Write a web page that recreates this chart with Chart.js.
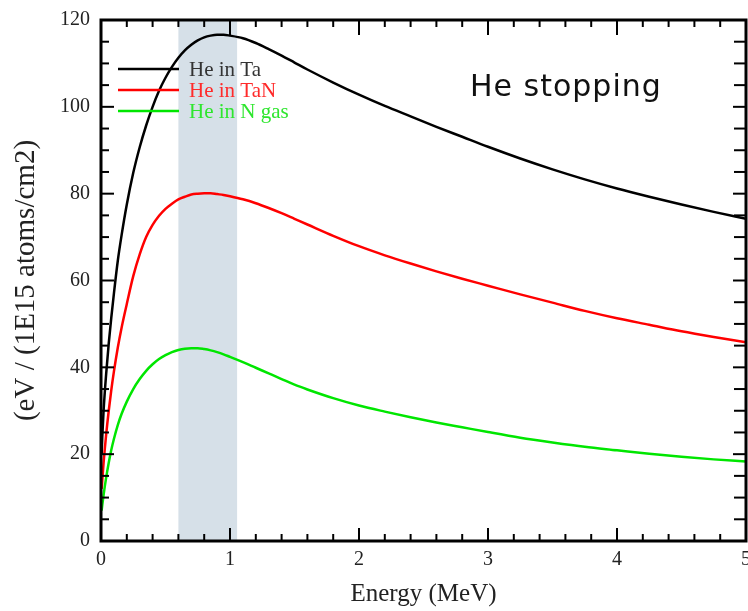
<!DOCTYPE html>
<html>
<head>
<meta charset="utf-8">
<title>He stopping</title>
<script src="https://cdn.jsdelivr.net/npm/chart.js@4.4.1/dist/chart.umd.min.js"></script>
<style>
  body { margin: 0; background: #fff; }
  canvas { display: block; }
</style>
</head>
<body>
<canvas id="grafico" width="748" height="611"></canvas>
<script>
// energy grid (MeV) and stopping values, eV / (1E15 atoms/cm2)
const energy = [0.005, 0.01, 0.02, 0.04, 0.06, 0.08, 0.1, 0.13, 0.16, 0.2,
    0.25, 0.3, 0.35, 0.4, 0.45, 0.5, 0.55, 0.6, 0.65, 0.7, 0.75, 0.8, 0.85, 0.9, 0.95, 1.0,
    1.1, 1.2, 1.3, 1.4, 1.5, 1.6, 1.8, 2.0, 2.2, 2.4, 2.6, 2.8, 3.0,
    3.25, 3.5, 3.75, 4.0, 4.25, 4.5, 4.75, 5.0];

const heInTa = [20, 24, 30, 38.5, 45.5, 51.5, 57, 64.5, 70.5, 77.5,
    84.8, 90.7, 95.7, 100.0, 103.7, 106.7, 109.2, 111.3, 113.0, 114.3, 115.3, 116.0, 116.4, 116.6, 116.6, 116.4,
    115.8, 114.7, 113.3, 111.8, 110.2, 108.6, 105.6, 102.8, 100.2, 97.8, 95.4, 93.1, 90.8,
    88.1, 85.6, 83.3, 81.2, 79.3, 77.5, 75.8, 74.2];

const heInTaN = [12, 14, 18, 24.5, 30, 34.8, 39, 44.5, 49.2, 54.6,
    61.0, 66.0, 70.0, 72.8, 74.9, 76.5, 77.7, 78.7, 79.3, 79.8, 80.0, 80.1, 80.1, 79.9, 79.7, 79.4,
    78.7, 77.8, 76.7, 75.5, 74.2, 72.9, 70.3, 67.9, 65.8, 63.9, 62.1, 60.4, 58.8,
    56.8, 54.9, 53.0, 51.3, 49.8, 48.3, 47.0, 45.8];

const heInNgas = [7.0, 8.3, 10.6, 14.6, 18.0, 21.0, 23.5, 26.7, 29.3, 32.1,
    35.0, 37.3, 39.2, 40.7, 41.9, 42.8, 43.5, 44.0, 44.3, 44.4, 44.4, 44.2, 43.9, 43.5, 43.0, 42.4,
    41.2, 39.9, 38.6, 37.3, 36.0, 34.9, 32.9, 31.2, 29.8, 28.5, 27.3, 26.2, 25.1,
    23.8, 22.7, 21.7, 20.9, 20.1, 19.4, 18.8, 18.3];

const seriesNames = ["He in Ta", "He in TaN", "He in N gas"];
const lineColors = ["#000000", "#ff0000", "#00e600"];
const textColors = ["#333333", "#ff2a2a", "#2ee62e"];

// shaded energy window (MeV)
const shadeRange = [0.6, 1.055];

const xTicks = { min: 0, max: 5, step: 1, minor: 0.2 };
const yTicks = { min: 0, max: 120, step: 20, minor: 5 };

const serif = "'Liberation Serif', 'Times New Roman', serif";

const toPoints = (values) => values.map((v, i) => ({ x: energy[i], y: v }));

// light band behind the curves
const shadePlugin = {
    id: "shade",
    beforeDatasetsDraw(chart) {
        const { ctx, chartArea, scales } = chart;
        const x0 = scales.x.getPixelForValue(shadeRange[0]);
        const x1 = scales.x.getPixelForValue(shadeRange[1]);
        ctx.save();
        ctx.fillStyle = "#d6e0e8";
        ctx.fillRect(x0, chartArea.top, x1 - x0, chartArea.bottom - chartArea.top);
        ctx.restore();
    }
};

function drawTicks(ctx, scale, range, along, edge, dir, minorLen, majorLen) {
    const n = Math.round((range.max - range.min) / range.minor);
    const every = Math.round(range.step / range.minor);
    for (let i = 0; i <= n; i++) {
        const v = range.min + i * range.minor;
        const p = scale.getPixelForValue(v);
        const len = i % every === 0 ? majorLen : minorLen;
        ctx.beginPath();
        if (along === "x") {
            ctx.moveTo(p, edge);
            ctx.lineTo(p, edge + dir * len);
        } else {
            ctx.moveTo(edge, p);
            ctx.lineTo(edge + dir * len, p);
        }
        ctx.stroke();
    }
}

// frame, inward ticks, legend and the caption
const framePlugin = {
    id: "frame",
    afterDraw(chart) {
        const { ctx, chartArea, scales } = chart;
        const { left, right, top, bottom } = chartArea;
        ctx.save();
        ctx.strokeStyle = "#000";
        ctx.lineWidth = 2;
        drawTicks(ctx, scales.x, xTicks, "x", bottom, -1, 7, 13);
        drawTicks(ctx, scales.x, xTicks, "x", top, 1, 7, 15);
        drawTicks(ctx, scales.y, yTicks, "y", left, 1, 8, 13);
        drawTicks(ctx, scales.y, yTicks, "y", right, -1, 12, 13);
        ctx.lineWidth = 3;
        ctx.strokeRect(left, top, right - left, bottom - top);

        // legend
        ctx.font = "21px " + serif;
        ctx.textBaseline = "middle";
        ctx.textAlign = "left";
        chart.data.datasets.forEach((ds, i) => {
            const y = 69 + i * 21;
            ctx.strokeStyle = ds.borderColor;
            ctx.lineWidth = 2.5;
            ctx.beginPath();
            ctx.moveTo(118, y);
            ctx.lineTo(179, y);
            ctx.stroke();
            ctx.fillStyle = textColors[i];
            ctx.fillText(ds.label, 189, y + 1);
        });

        ctx.fillStyle = "#111";
        ctx.font = "30px 'DejaVu Sans', sans-serif";
        ctx.letterSpacing = "1px";
        ctx.textBaseline = "alphabetic";
        ctx.fillText("He stopping", 470, 96);
        ctx.restore();
    }
};

const config = {
    type: "line",
    data: {
        datasets: [heInTa, heInTaN, heInNgas].map((values, i) => ({
            label: seriesNames[i],
            data: toPoints(values),
            borderColor: lineColors[i],
            borderWidth: 2.5,
            pointRadius: 0,
            cubicInterpolationMode: "monotone",
            fill: false
        }))
    },
    options: {
        responsive: false,
        animation: false,
        layout: { padding: { top: 20, right: 2, left: 0, bottom: 0 } },
        plugins: {
            legend: { display: false },
            tooltip: { enabled: false }
        },
        scales: {
            x: {
                type: "linear",
                min: xTicks.min,
                max: xTicks.max,
                grid: { display: false, drawTicks: false },
                border: { display: false },
                ticks: {
                    stepSize: xTicks.step,
                    autoSkip: false,
                    maxRotation: 0,
                    padding: 7,
                    color: "#222",
                    font: { family: serif, size: 20 }
                },
                title: {
                    display: true,
                    text: "Energy (MeV)",
                    color: "#222",
                    font: { family: serif, size: 25 },
                    padding: { top: 0, bottom: 2 }
                },
                afterFit(scale) {
                    scale.height = 70;
                    scale.paddingLeft = 0;
                    scale.paddingRight = 0;
                }
            },
            y: {
                min: yTicks.min,
                max: yTicks.max,
                grid: { display: false, drawTicks: false },
                border: { display: false },
                ticks: {
                    stepSize: yTicks.step,
                    padding: 11,
                    color: "#222",
                    font: { family: serif, size: 20 }
                },
                title: {
                    display: true,
                    text: "(eV / (1E15 atoms/cm2)",
                    color: "#222",
                    font: { family: serif, size: 29 },
                    padding: { top: 9, bottom: 0 }
                },
                afterFit(scale) {
                    scale.width = 101;
                    scale.paddingTop = 0;
                    scale.paddingBottom = 0;
                }
            }
        }
    },
    plugins: [shadePlugin, framePlugin]
};

const myChart = new Chart(document.getElementById("grafico"), config);
</script>
</body>
</html>
